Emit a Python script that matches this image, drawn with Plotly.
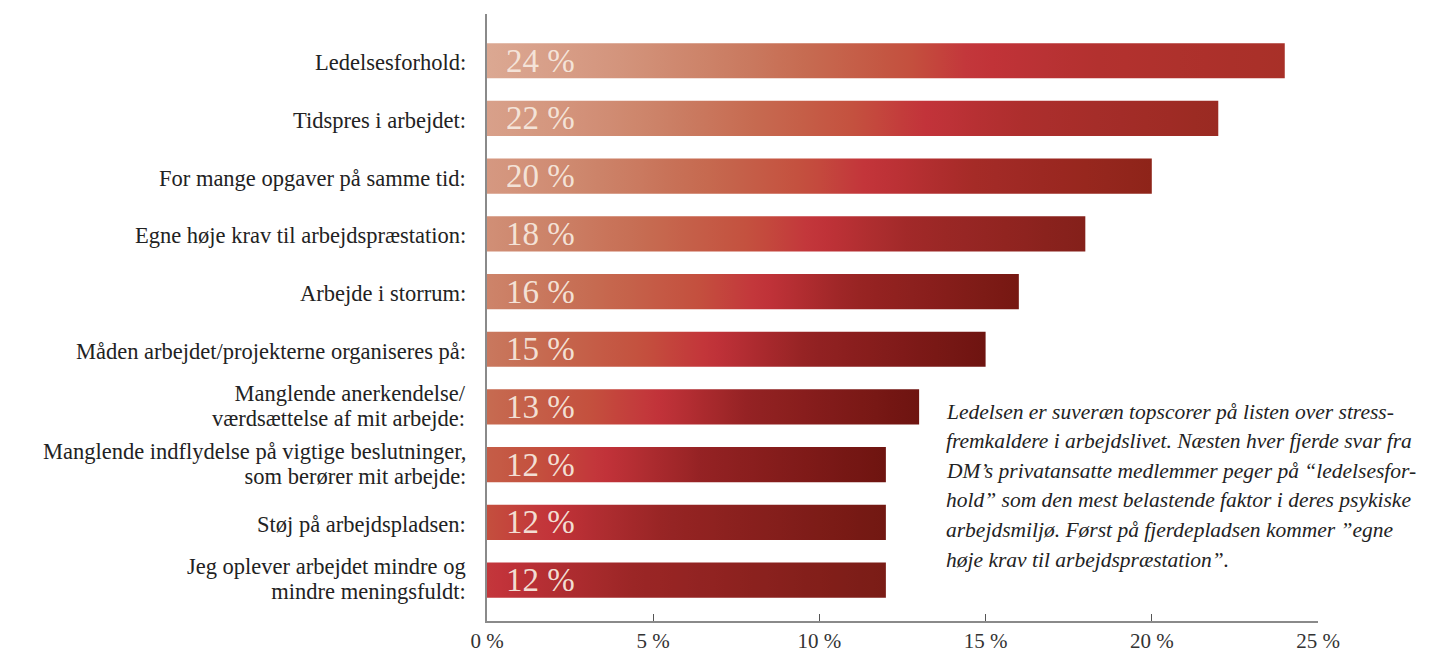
import plotly.graph_objects as go

# ---------------- data ----------------
categories = [
    "Ledelsesforhold:",
    "Tidspres i arbejdet:",
    "For mange opgaver på samme tid:",
    "Egne høje krav til arbejdspræstation:",
    "Arbejde i storrum:",
    "Måden arbejdet/projekterne organiseres på:",
    "Manglende anerkendelse/<br>værdsættelse af mit arbejde:",
    "Manglende indflydelse på vigtige beslutninger,<br>som berører mit arbejde:",
    "Støj på arbejdspladsen:",
    "Jeg oplever arbejdet mindre og<br>mindre meningsfuldt:",
]
values = [24, 22, 20, 18, 16, 15, 13, 12, 12, 12]
value_labels = ["24 %", "22 %", "20 %", "18 %", "16 %", "15 %", "13 %", "12 %", "12 %", "12 %"]
x_ticks = [0, 5, 10, 15, 20, 25]
x_tick_labels = ["0 %", "5 %", "10 %", "15 %", "20 %", "25 %"]
note_lines = [
    "Ledelsen er suveræn topscorer på listen over stress-",
    "fremkaldere i arbejdslivet. Næsten hver fjerde svar fra",
    "DM’s privatansatte medlemmer peger på “ledelsesfor-",
    "hold” som den mest belastende faktor i deres psykiske",
    "arbejdsmiljø. Først på fjerdepladsen kommer ”egne",
    "høje krav til arbejdspræstation”.",
]

# ---------------- styling helpers ----------------
SERIF = "Liberation Serif, Times New Roman, serif"
end_colors = ["#a83028", "#9a2a22", "#8e2419", "#84201a", "#761812",
              "#6e1410", "#6e1410", "#6e1410", "#721812", "#7a1c16"]


def hex2rgb(h):
    h = h.lstrip("#")
    return tuple(int(h[i:i + 2], 16) for i in (0, 2, 4))


def lerp(c1, c2, t):
    a, b = hex2rgb(c1), hex2rgb(c2)
    return tuple(a[i] + (b[i] - a[i]) * t for i in range(3))


def rgbstr(c):
    return "rgb(%d,%d,%d)" % tuple(int(round(v)) for v in c)


RED = "#c3333a"
left_stops = [(0, RED), (2, "#c4503e"), (5, "#c66a50"), (8, "#cc8268"),
              (11, "#d4967e"), (15, "#dcaa94"), (100, "#dcaa94")]


def left_color(d):
    for (d0, c0), (d1, c1) in zip(left_stops[:-1], left_stops[1:]):
        if d0 <= d <= d1:
            return lerp(c0, c1, (d - d0) / (d1 - d0))
    return hex2rgb(left_stops[-1][1])


def color_at(x, ypos, v, endc):
    r = 0.3 + 1.6 * ypos
    if x <= r:
        return left_color(r - x)
    t = (x - r) / max(v - r, 1e-6)
    mid = lerp(RED, endc, 0.55)
    mid_hex = "#%02x%02x%02x" % tuple(int(round(c)) for c in mid)
    if t < 0.35:
        return lerp(RED, mid_hex, t / 0.35)
    return lerp(mid_hex, endc, (t - 0.35) / 0.65)


n = len(categories)
ypos_list = [n - 1 - i for i in range(n)]  # top bar highest
half = 0.305

fig = go.Figure()
for i, (v, yp) in enumerate(zip(values, ypos_list)):
    N = 30
    scale = []
    for k in range(N + 1):
        f = k / N
        scale.append([f, rgbstr(color_at(f * v, yp, v, end_colors[i]))])
    fig.add_trace(go.Scatter(
        x=[0, v, v, 0, 0],
        y=[yp - half, yp - half, yp + half, yp + half, yp - half],
        mode="lines",
        line=dict(width=0, color="rgba(0,0,0,0)"),
        fill="toself",
        fillgradient=dict(type="horizontal", colorscale=scale, start=0, stop=v),
        hoverinfo="skip",
        showlegend=False,
    ))

# figure geometry (page has an 8px body margin)
OFF = 8
W, H = 1436 - OFF, 652 - OFF
L, T = 487 - OFF, 14 - OFF
R = W - (1318 - OFF)
B = H - (621 - OFF)
PW, PH = W - L - R, H - T - B

annotations = []
# value labels inside bars
for lab, yp in zip(value_labels, ypos_list):
    annotations.append(dict(
        x=0, y=yp, xref="x", yref="y", text=lab, showarrow=False,
        xanchor="left", yanchor="middle", xshift=17, yshift=0,
        font=dict(family=SERIF, size=33, color="rgba(246,232,222,0.95)"),
    ))

# category labels: base font size sets the line spacing,
# the span sets the glyph size
for cat, yp in zip(categories, ypos_list):
    multi = "<br>" in cat
    txt = "<br>".join('<span style="font-size:22.5px">%s</span>' % s
                      for s in cat.split("<br>"))
    annotations.append(dict(
        x=0, y=yp, xref="paper", yref="y", text=txt, showarrow=False,
        xanchor="right", yanchor="middle", align="right", xshift=-19,
        yshift=(1 if multi else -2),
        font=dict(family=SERIF, size=19.5, color="#222222"),
    ))

# note paragraph (positions given in page pixels)
for k, ln in enumerate(note_lines):
    xpix = 944 - OFF
    ypix = 412 + k * 29.5 - OFF
    annotations.append(dict(
        x=(xpix - L) / PW, y=1 - (ypix - T) / PH, xref="paper", yref="paper",
        text="<i>" + ln + "</i>", showarrow=False,
        xanchor="left", yanchor="middle",
        font=dict(family=SERIF, size=21.5, color="#222222"),
    ))

fig.update_layout(
    width=W, height=H,
    margin=dict(l=L, r=R, t=T, b=B, autoexpand=False),
    paper_bgcolor="white", plot_bgcolor="white",
    showlegend=False,
    annotations=annotations,
    xaxis=dict(
        range=[0, 25], tickvals=x_ticks, ticktext=x_tick_labels,
        showgrid=False, zeroline=False, showline=True, automargin=False,
        linecolor="#8a8a8a", linewidth=1.5,
        ticks="inside", ticklen=7, tickwidth=1.2, tickcolor="#555555",
        tickfont=dict(family=SERIF, size=21, color="#333333"),
        fixedrange=True,
    ),
    yaxis=dict(
        range=[-0.71, n - 1 + 0.81], showgrid=False, zeroline=False,
        showline=True, linecolor="#8a8a8a", linewidth=1.5, automargin=False,
        showticklabels=False, ticks="", fixedrange=True,
    ),
)

fig.write_html("out.html")
